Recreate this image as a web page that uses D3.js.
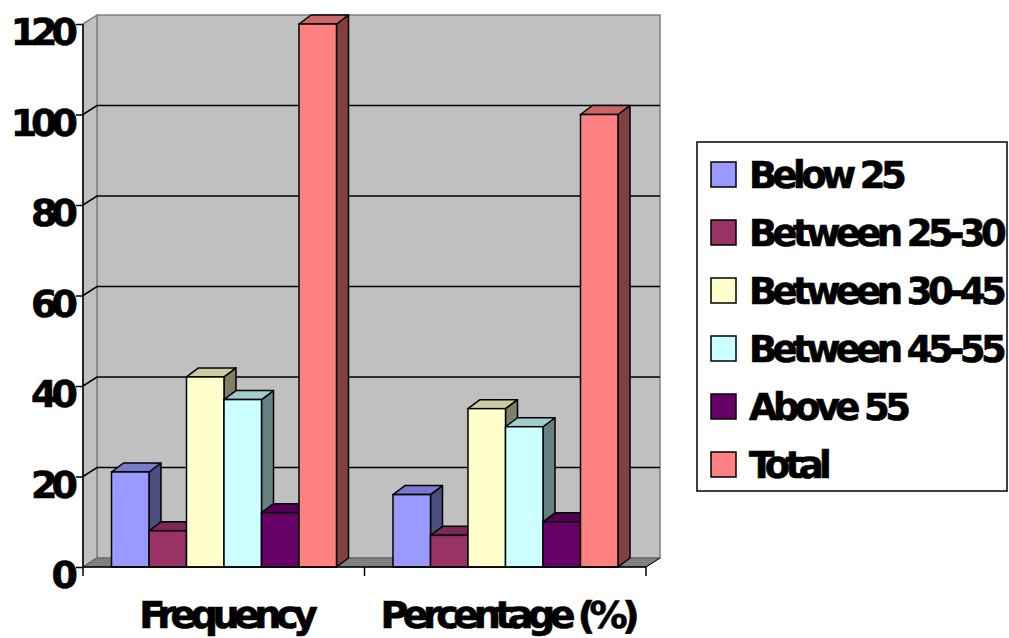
<!DOCTYPE html>
<html lang="en">
<head>
  <meta charset="UTF-8">
  <title>Age groups</title>
  <script src="https://d3js.org/d3.v7.min.js"></script>
  <style>
    body { margin: 0; background: #fff; }
    text { font-family: "DejaVu Sans", sans-serif; font-weight: bold; fill: #000; stroke: #000; stroke-width: 0.7px; }
  </style>
</head>
<body>
  <div id="chart"></div>

  <script>
    const categories = ["Frequency", "Percentage (%)"];
    const series = ["Below 25", "Between 25-30", "Between 30-45", "Between 45-55", "Above 55", "Total"];
    const frequency = [21, 8, 42, 37, 12, 120];
    const percentage = [16, 7, 35, 31, 10, 100];
    const yTicks = [0, 20, 40, 60, 80, 100, 120];
    const colors = ["#9999ff", "#993366", "#ffffcc", "#ccffff", "#660066", "#ff8080"];

    const W = 1009, H = 638;
    const pLeft = 83, pRight = 646, pTop = 24, pBottom = 567;
    // depth offset of the 3D walls and the bars
    const wallDx = 14, wallDy = -9;
    const barDx = 12, barDy = -9;

    const svg = d3.select("#chart")
                  .append("svg")
                  .attr("width", W)
                  .attr("height", H);

    const y = d3.scaleLinear().domain([0, 120]).range([pBottom, pTop]);
    const x0 = d3.scaleBand().domain(categories).range([pLeft, pRight]);
    const x1 = d3.scaleBand().domain(series).range([28.5, 253.5]);
    const color = d3.scaleOrdinal().domain(series).range(colors);

    const shade = (c, k) => {
      const r = d3.rgb(c);
      return d3.rgb(r.r * k, r.g * k, r.b * k).formatHex();
    };

    // back wall
    svg.append("rect")
       .attr("x", pLeft + wallDx).attr("y", pTop + wallDy)
       .attr("width", pRight - pLeft).attr("height", pBottom - pTop)
       .attr("fill", "#c0c0c0").attr("stroke", "#808080").attr("stroke-width", 1.5);

    // side wall
    svg.append("path")
       .attr("d", `M${pLeft},${pTop}L${pLeft + wallDx},${pTop + wallDy}L${pLeft + wallDx},${pBottom + wallDy}L${pLeft},${pBottom}Z`)
       .attr("fill", "#c0c0c0").attr("stroke", "#808080").attr("stroke-width", 1.5);

    // floor
    svg.append("path")
       .attr("d", `M${pLeft},${pBottom}L${pLeft + wallDx},${pBottom + wallDy}L${pRight + wallDx},${pBottom + wallDy}L${pRight},${pBottom}Z`)
       .attr("fill", "#808080").attr("stroke", "#606060").attr("stroke-width", 1);

    // gridlines
    const grid = yTicks.filter(v => v > 0 && v < 120);
    svg.selectAll(".grid")
       .data(grid)
       .enter()
       .append("path")
       .attr("d", v => `M${pLeft},${y(v)}L${pLeft + wallDx},${y(v) + wallDy}L${pRight + wallDx},${y(v) + wallDy}`)
       .attr("fill", "none").attr("stroke", "#000").attr("stroke-width", 1.5);

    // bars
    const rows = [];
    categories.forEach((c, i) => {
      const vals = i === 0 ? frequency : percentage;
      series.forEach((s, j) => rows.push({cat: c, key: s, value: vals[j]}));
    });

    const bar = svg.selectAll(".bar")
                   .data(rows)
                   .enter()
                   .append("g")
                   .attr("class", "bar");

    bar.append("path") // side
       .attr("d", d => {
         const xr = x0(d.cat) + x1(d.key) + x1.bandwidth();
         return `M${xr},${y(d.value)}L${xr + barDx},${y(d.value) + barDy}L${xr + barDx},${pBottom + barDy}L${xr},${pBottom}Z`;
       })
       .attr("fill", d => shade(color(d.key), 0.5))
       .attr("stroke", "#000").attr("stroke-width", 1.5).attr("stroke-linejoin", "round");

    bar.append("path") // top
       .attr("d", d => {
         const xl = x0(d.cat) + x1(d.key), xr = xl + x1.bandwidth(), yt = y(d.value);
         return `M${xl},${yt}L${xl + barDx},${yt + barDy}L${xr + barDx},${yt + barDy}L${xr},${yt}Z`;
       })
       .attr("fill", d => shade(color(d.key), 0.8))
       .attr("stroke", "#000").attr("stroke-width", 1.5).attr("stroke-linejoin", "round");

    bar.append("rect") // front
       .attr("x", d => x0(d.cat) + x1(d.key))
       .attr("y", d => y(d.value))
       .attr("width", x1.bandwidth())
       .attr("height", d => pBottom - y(d.value))
       .attr("fill", d => color(d.key))
       .attr("stroke", "#000").attr("stroke-width", 1.5);

    // y axis
    const yAxis = svg.append("g")
       .attr("transform", `translate(${pLeft},0)`)
       .call(d3.axisLeft(y).tickValues(yTicks).tickSize(7).tickFormat(d3.format("d")));
    yAxis.select(".domain").attr("stroke", "#000").attr("stroke-width", 1.5).attr("d", `M0,${pTop}V${pBottom}`);
    yAxis.selectAll(".tick line").attr("stroke", "#000").attr("stroke-width", 1.5);
    yAxis.selectAll(".tick text")
         .attr("x", -11).attr("dy", "0.55em")
         .attr("fill", "#000")
         .style("font-family", "DejaVu Sans").style("font-weight", "bold")
         .style("font-size", "38px").style("letter-spacing", "-6px");

    // x axis
    const xAxis = svg.append("g")
       .attr("transform", `translate(0,${pBottom})`)
       .call(d3.axisBottom(x0).tickSize(0).tickFormat(""));
    xAxis.select(".domain").attr("stroke", "#000").attr("stroke-width", 1.5).attr("d", `M${pLeft},0H${pRight}`);
    svg.selectAll(".xtick")
       .data([pLeft, ...categories.map(c => x0(c) + x0.bandwidth())])
       .enter()
       .append("line")
       .attr("x1", d => d).attr("x2", d => d)
       .attr("y1", pBottom).attr("y2", pBottom + 9)
       .attr("stroke", "#000").attr("stroke-width", 1.5);
    svg.append("path")
       .attr("d", `M${pRight},${pBottom}L${pRight + wallDx},${pBottom + wallDy}`)
       .attr("stroke", "#000").attr("stroke-width", 1);

    svg.selectAll(".cat")
       .data(categories)
       .enter()
       .append("text")
       .attr("x", d => x0(d) + x0.bandwidth() / 2 + 2)
       .attr("y", 628)
       .attr("text-anchor", "middle")
       .style("font-size", "38px").style("letter-spacing", "-5.5px")
       .text(d => d);

    // legend
    const lg = svg.append("g").attr("transform", "translate(697,142)");
    lg.append("rect")
      .attr("width", 310).attr("height", 349)
      .attr("fill", "#fff").attr("stroke", "#000").attr("stroke-width", 1.5);
    const item = lg.selectAll(".item")
      .data(series)
      .enter()
      .append("g")
      .attr("transform", (d, i) => `translate(0,${32.5 + i * 58})`);
    item.append("rect")
      .attr("x", 14).attr("y", -12.5).attr("width", 25).attr("height", 25)
      .attr("fill", d => color(d)).attr("stroke", "#000").attr("stroke-width", 1.5);
    item.append("text")
      .attr("x", 52).attr("y", 13)
      .style("font-size", "37px").style("letter-spacing", "-4.6px")
      .text(d => d);
  </script>
</body>
</html>
